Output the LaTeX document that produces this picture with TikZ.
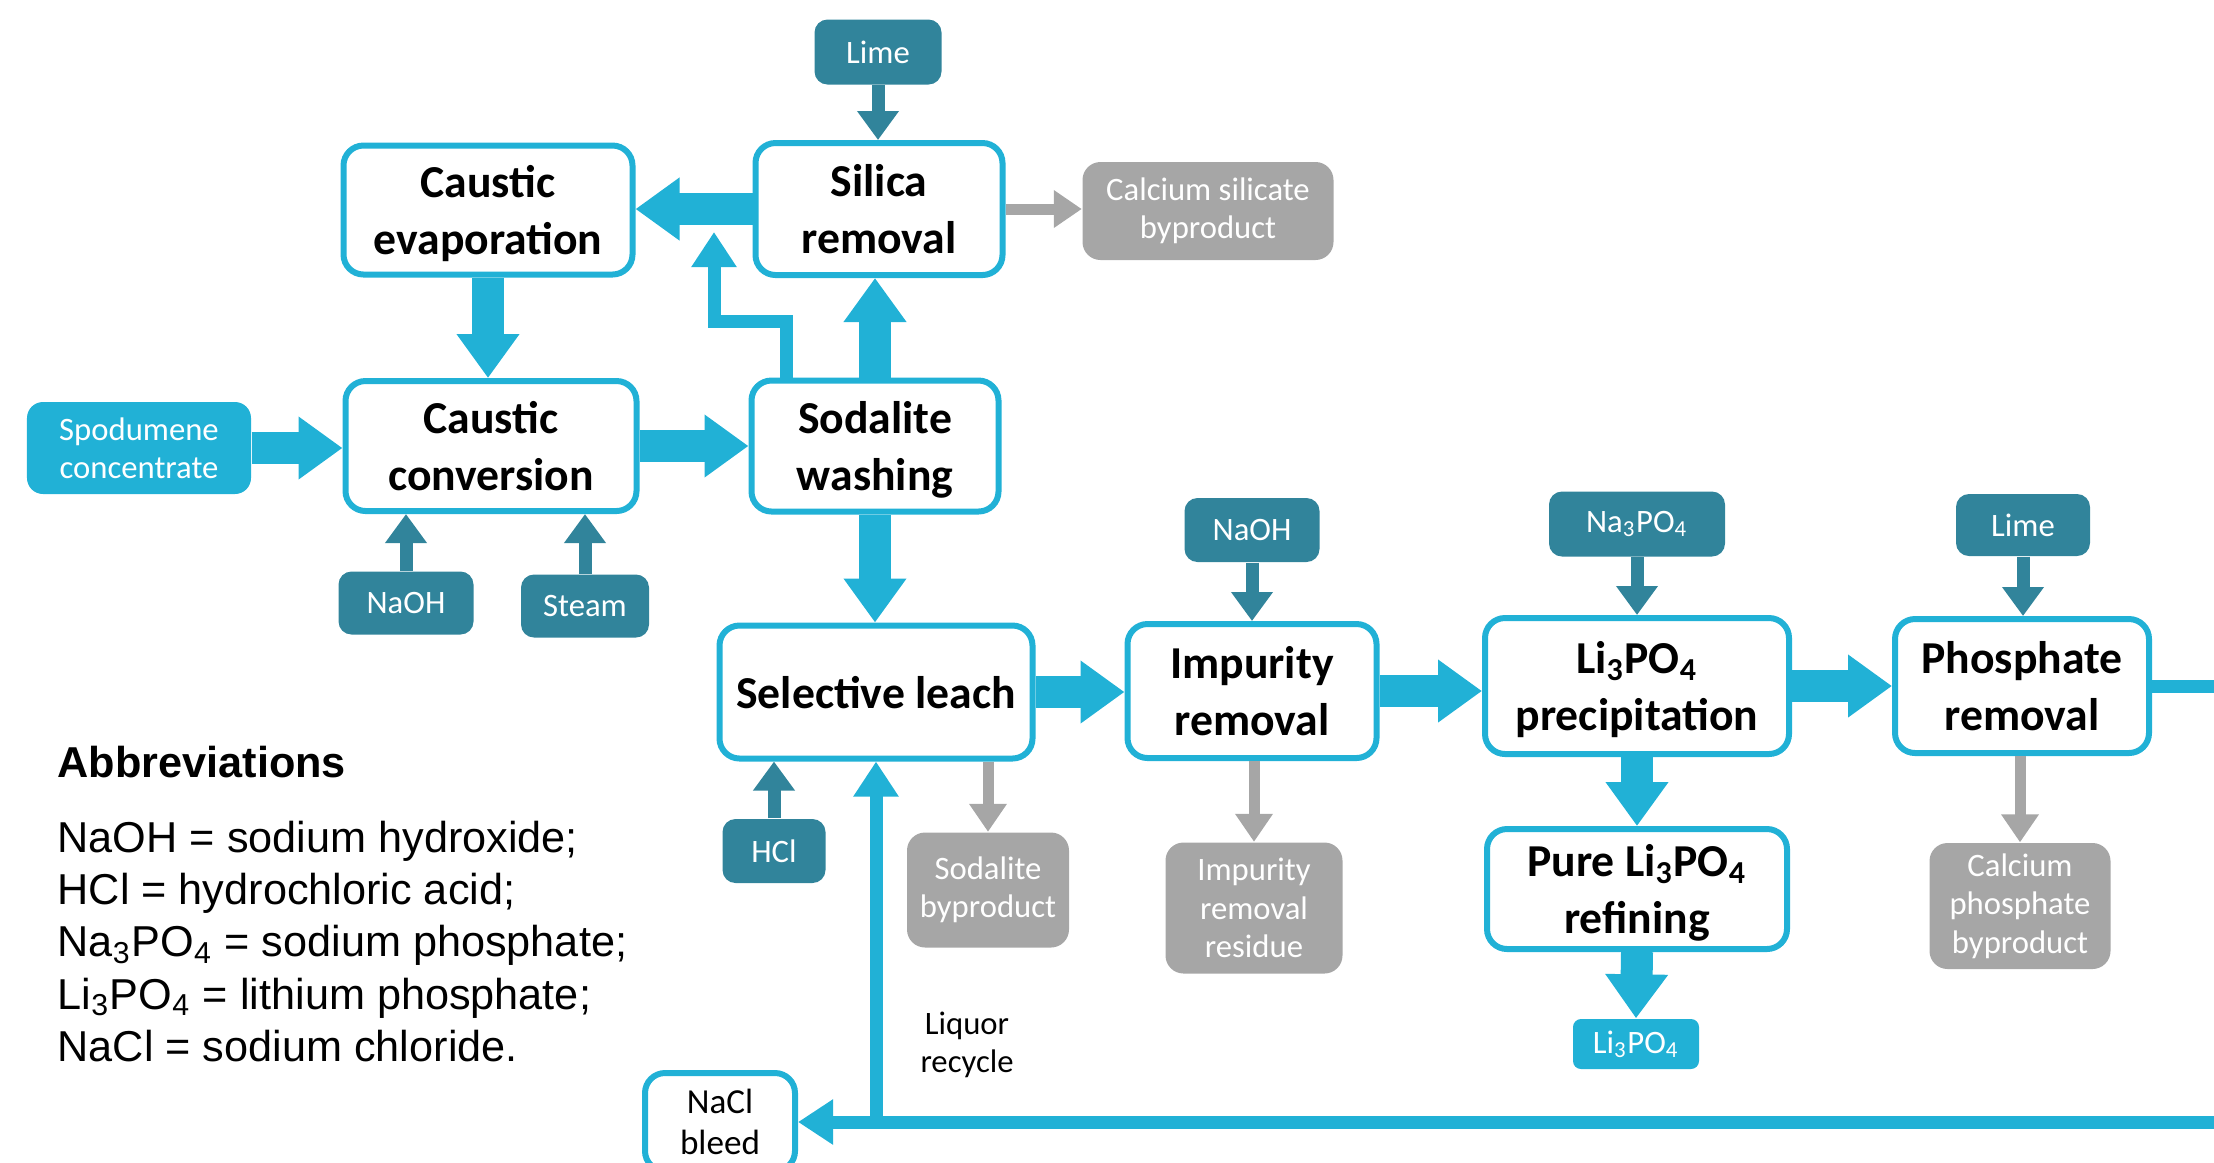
\documentclass[tikz,border=0pt]{standalone}
\usepackage{fontspec}
\setmainfont{Carlito}
\newfontfamily\abbrfont{Liberation Sans}
\usepackage{tikz}
\usetikzlibrary{arrows.meta, calc}
\definecolor{flowblue}{RGB}{33,177,214}
\definecolor{flowteal}{RGB}{49,132,155}
\definecolor{flowgrey}{RGB}{166,166,166}
\tikzset{
    process/.style = {
        draw            = flowblue,
        line width      = 0.06cm,
        fill            = white,
        rounded corners = 0.2cm,
        align           = center,
        inner sep       = 0pt,
        font            = \fontsize{10}{11.6}\selectfont,
    },
    stage/.style = {
        process,
        font       = \fontsize{13}{16}\selectfont\bfseries,
        text depth = -4pt,
    },
    feedbox/.style = {
        fill            = flowteal,
        text            = white,
        rounded corners = 0.13cm,
        align           = center,
        inner sep       = 0pt,
        font            = \fontsize{9.3}{10.9}\selectfont,
    },
    wastebox/.style = {feedbox, fill = flowgrey, rounded corners = 0.18cm},
    bigflow/.style  = {draw = flowblue, line width = 0.32cm, -{Triangle[width = 0.6cm, length = 0.44cm]}},
    feed/.style     = {draw = flowteal, line width = 0.13cm, -{Triangle[width = 0.4cm, length = 0.29cm]}},
    waste/.style    = {draw = flowgrey, line width = 0.11cm, -{Triangle[width = 0.36cm, length = 0.28cm]}},
    liquor/.style   = {draw = flowblue, line width = 0.13cm, -{Triangle[width = 0.43cm, length = 0.35cm]}},
}

\begin{document}
\begin{tikzpicture}
        \useasboundingbox (0, 0) rectangle (22.14, -11.62);

        % main process steps
        \node at (4.88, -2.10) (evap) [stage, minimum width = 2.89cm, minimum height = 1.29cm] {Caustic\\evaporation};
        \node at (8.79, -2.09) (silica) [stage, minimum width = 2.47cm, minimum height = 1.32cm] {Silica\\removal};
        \node at (4.91, -4.46) (conv) [stage, minimum width = 2.91cm, minimum height = 1.30cm] {Caustic\\conversion};
        \node at (8.75, -4.46) (sodalite) [stage, minimum width = 2.47cm, minimum height = 1.31cm] {Sodalite\\washing};
        \node at (8.76, -6.92) (leach) [stage, minimum width = 3.13cm, minimum height = 1.33cm] {Selective leach};
        \node at (12.52, -6.91) (impurity) [stage, minimum width = 2.49cm, minimum height = 1.34cm] {Impurity\\removal};
        \node at (16.37, -6.86) (precip) [stage, minimum width = 3.04cm, minimum height = 1.36cm] {Li\textsubscript{3}PO\textsubscript{4}\\precipitation};
        \node at (20.22, -6.86) (phosphate) [stage, minimum width = 2.54cm, minimum height = 1.34cm] {Phosphate\\removal};
        \node at (16.37, -8.89) (pureli) [stage, minimum width = 3.00cm, minimum height = 1.20cm] {Pure Li\textsubscript{3}PO\textsubscript{4}\\refining};
        \node at (7.20, -11.22) (nacl) [process, minimum width = 1.50cm, minimum height = 0.98cm] {NaCl\\bleed};

        % feeds and reagents
        \node at (1.39, -4.48) (spodumene) [feedbox, fill = flowblue, rounded corners = 0.16cm, minimum width = 2.24cm, minimum height = 0.92cm] {Spodumene\\concentrate};
        \node at (8.78, -0.52) (lime) [feedbox, minimum width = 1.27cm, minimum height = 0.65cm] {Lime};
        \node at (4.06, -6.03) (naoh) [feedbox, minimum width = 1.35cm, minimum height = 0.63cm] {NaOH};
        \node at (5.85, -6.06) (steam) [feedbox, minimum width = 1.28cm, minimum height = 0.63cm] {Steam};
        \node at (12.52, -5.30) (naohb) [feedbox, minimum width = 1.35cm, minimum height = 0.64cm] {NaOH};
        \node at (16.37, -5.24) (nathree) [feedbox, minimum width = 1.76cm, minimum height = 0.65cm] {Na\textsubscript{3}PO\textsubscript{4}};
        \node at (20.23, -5.25) (limeb) [feedbox, minimum width = 1.34cm, minimum height = 0.62cm] {Lime};
        \node at (7.74, -8.51) (hcl) [feedbox, minimum width = 1.03cm, minimum height = 0.64cm] {HCl};

        % products and byproducts
        \node at (12.08, -2.11) (calsil) [wastebox, minimum width = 2.51cm, minimum height = 0.98cm] {Calcium silicate\\byproduct};
        \node at (9.88, -8.90) (sodbyp) [wastebox, minimum width = 1.62cm, minimum height = 1.15cm] {Sodalite\\byproduct};
        \node at (12.54, -9.08) (impres) [wastebox, minimum width = 1.77cm, minimum height = 1.31cm] {Impurity\\removal\\residue};
        \node at (20.20, -9.06) (calphos) [wastebox, minimum width = 1.81cm, minimum height = 1.26cm] {Calcium\\phosphate\\byproduct};
        \node at (16.36, -10.44) (liout) [feedbox, fill = flowblue, rounded corners = 0.08cm, minimum width = 1.26cm, minimum height = 0.50cm] {Li\textsubscript{3}PO\textsubscript{4}};

        \node at (9.67, -10.45) (recycletext) [align = center, font = \fontsize{9.3}{10.9}\selectfont] {Liquor\\recycle};

        % main flow
        \draw [bigflow] (silica.west) -- (silica.west -| evap.east);
        \draw [bigflow] (evap.south) -- (evap.south |- conv.north);
        \draw [bigflow] (spodumene.east) -- (spodumene.east -| conv.west);
        \draw [bigflow] (conv.east) -- (conv.east -| sodalite.west);
        \draw [bigflow] (sodalite.north) -- (sodalite.north |- silica.south);
        \draw [bigflow] (sodalite.south) -- (sodalite.south |- leach.north);
        \draw [bigflow] (leach.east) -- (leach.east -| impurity.west);
        \draw [bigflow] (impurity.east) -- (impurity.east -| precip.west);
        \draw [bigflow] (precip.east) -- (precip.east -| phosphate.west);
        \draw [bigflow] (precip.south) -- (pureli.north);
        \draw [bigflow] (pureli.south) -- (liout.north);

        % reagents in
        \draw [feed] (lime.south) -- (lime.south |- silica.north);
        \draw [feed] (naoh.north) -- (naoh.north |- conv.south);
        \draw [feed] (steam.north) -- (steam.north |- conv.south);
        \draw [feed] (naohb.south) -- (naohb.south |- impurity.north);
        \draw [feed] (nathree.south) -- (nathree.south |- precip.north);
        \draw [feed] (limeb.south) -- (limeb.south |- phosphate.north);
        \draw [feed] (hcl.north) -- (hcl.north |- leach.south);

        % byproducts out
        \draw [waste] (silica.east) -- (silica.east -| calsil.west);
        \draw [waste] (sodbyp.north |- leach.south) -- (sodbyp.north);
        \draw [waste] (impres.north |- impurity.south) -- (impres.north);
        \draw [waste] (calphos.north |- phosphate.south) -- (calphos.north);

        % liquor loops
        \coordinate (merge) at (7.14, -2.32);
        \draw [liquor] ([xshift = -0.89cm]sodalite.north) -- ++(0, 0.56) -| (merge);
        \draw [liquor] (phosphate.east) -- ++(1.2, 0) |- (nacl.east);
        \draw [liquor] (leach.south |- nacl.east) -- (leach.south);

        % abbreviations
        \node at (0.57, -7.77) (abbrtitle) [anchor = base west, inner sep = 0pt, font = \abbrfont\bfseries\fontsize{12.3}{14.8}\selectfont] {Abbreviations};
        \node at (0.57, -10.61) (abbrlist) [anchor = base west, inner sep = 0pt, align = left, font = \abbrfont\fontsize{12.3}{14.8}\selectfont]
            {NaOH = sodium hydroxide;\\HCl = hydrochloric acid;\\Na\textsubscript{3}PO\textsubscript{4} = sodium phosphate;\\Li\textsubscript{3}PO\textsubscript{4} = lithium phosphate;\\NaCl = sodium chloride.};
\end{tikzpicture}
\end{document}
